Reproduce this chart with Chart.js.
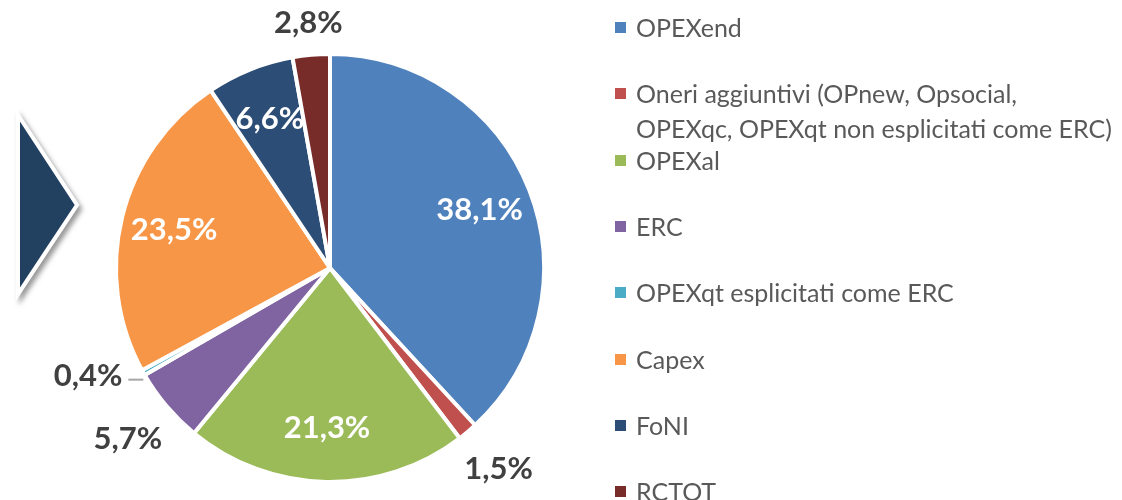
<!DOCTYPE html>
<html lang="it">
  <head>
    <meta charset="UTF-8" />
    <title>Ripartizione costi</title>
    <style>
      html, body { margin: 0; padding: 0; background: #ffffff; }
      .wrap { position: relative; width: 1122px; height: 500px; overflow: hidden; }
      #torta { position: absolute; left: 0; top: 0; }
      #freccia { position: absolute; left: 0; top: 0; }
      .legenda { position: absolute; left: 615px; top: 0; font-family: Lato, "Open Sans", sans-serif; font-size: 25px; color: #595959; }
      .voce { position: absolute; left: 0; white-space: nowrap; line-height: 35px; }
      .voce span.q { position: absolute; left: 0; top: 12px; width: 11px; height: 11px; }
      .voce span.t { display: block; margin-left: 21px; }
    </style>
  </head>
  <body>
    <div class="wrap">
      <svg id="freccia" width="120" height="320">
        <defs>
          <filter id="ombra" x="-30%" y="-30%" width="160%" height="160%">
            <feDropShadow dx="3" dy="4" stdDeviation="2.5" flood-color="#7f7f7f" flood-opacity="0.8" />
          </filter>
        </defs>
        <polygon points="18,115 77,205 18,294" fill="#243f60" stroke="#ffffff" stroke-width="4" stroke-linejoin="miter" filter="url(#ombra)" />
      </svg>
      <canvas id="torta" width="1122" height="500"></canvas>
      <div class="legenda" id="legenda"></div>
    </div>

    <script src="https://cdn.jsdelivr.net/npm/chart.js"></script>
    <script>
      const voci = [
        "OPEXend",
        ["Oneri aggiuntivi (OPnew, Opsocial,", "OPEXqc, OPEXqt non esplicitati come ERC)"],
        "OPEXal",
        "ERC",
        "OPEXqt esplicitati come ERC",
        "Capex",
        "FoNI",
        "RCTOT",
      ];
      const quote = [38.1, 1.5, 21.3, 5.7, 0.4, 23.5, 6.6, 2.8];
      const colori = ["#4f81bd", "#c0504d", "#9bbb59", "#8064a2", "#4bacc6", "#f79646", "#2c4d75", "#772c2a"];

      function formatta(v) {
        return v.toFixed(1).replace(".", ",") + "%";
      }

      // etichette percentuali: dentro le fette grandi, fuori quelle piccole
      const etichette = {
        id: "etichette",
        afterDatasetsDraw(chart) {
          const ctx = chart.ctx;
          const meta = chart.getDatasetMeta(0);
          const dati = chart.data.datasets[0].data;
          ctx.save();
          ctx.font = "bold 31px Lato, 'Open Sans', sans-serif";
          ctx.textAlign = "center";
          ctx.textBaseline = "middle";
          meta.data.forEach((arc, i) => {
            const v = dati[i];
            const testo = formatta(v);
            const mid = (arc.startAngle + arc.endAngle) / 2;
            const dx = Math.cos(mid);
            const dy = Math.sin(mid);
            const R = arc.outerRadius;
            const w = ctx.measureText(testo).width;
            let x, y;
            if (v > 6) {
              x = arc.x + dx * R * 0.75;
              y = arc.y + dy * R * 0.75;
              ctx.fillStyle = "#ffffff";
            } else if (v < 1) {
              // fetta minima: etichetta a sinistra con linea guida
              const ox = arc.x + dx * R;
              const oy = arc.y + dy * R;
              x = ox - 21 - w / 2;
              y = oy + 3;
              ctx.fillStyle = "#404040";
              ctx.strokeStyle = "#a6a6a6";
              ctx.lineWidth = 2;
              ctx.beginPath();
              ctx.moveTo(x + w / 2 + 6, oy + 7);
              ctx.lineTo(ox, oy + 7);
              ctx.stroke();
            } else {
              const d = R + 17 + (w / 2) * Math.abs(dx) + 12 * Math.abs(dy);
              x = arc.x + dx * d;
              y = arc.y + dy * d;
              ctx.fillStyle = "#404040";
            }
            ctx.fillText(testo, x, y);
          });
          ctx.restore();
        },
      };

      function creaLegenda() {
        const box = document.getElementById("legenda");
        voci.forEach((voce, i) => {
          const el = document.createElement("div");
          el.className = "voce";
          el.style.top = (10 + i * 66.3) + "px";
          const q = document.createElement("span");
          q.className = "q";
          q.style.background = colori[i];
          el.appendChild(q);
          const righe = Array.isArray(voce) ? voce : [voce];
          righe.forEach((r) => {
            const t = document.createElement("span");
            t.className = "t";
            t.textContent = r;
            el.appendChild(t);
          });
          box.appendChild(el);
        });
      }

      function disegnaTorta() {
        const ctx = document.getElementById("torta").getContext("2d");
        new Chart(ctx, {
          type: "pie",
          data: {
            labels: voci.map((v) => (Array.isArray(v) ? v.join(" ") : v)),
            datasets: [
              {
                data: quote,
                backgroundColor: colori,
                borderColor: "#ffffff",
                borderWidth: 4,
              },
            ],
          },
          options: {
            responsive: false,
            animation: false,
            layout: { padding: { left: 114, right: 576, top: 52, bottom: 16 } },
            plugins: {
              legend: { display: false },
              tooltip: { enabled: false },
            },
          },
          plugins: [etichette],
        });
      }

      window.onload = function () {
        creaLegenda();
        disegnaTorta();
      };
    </script>
  </body>
</html>
